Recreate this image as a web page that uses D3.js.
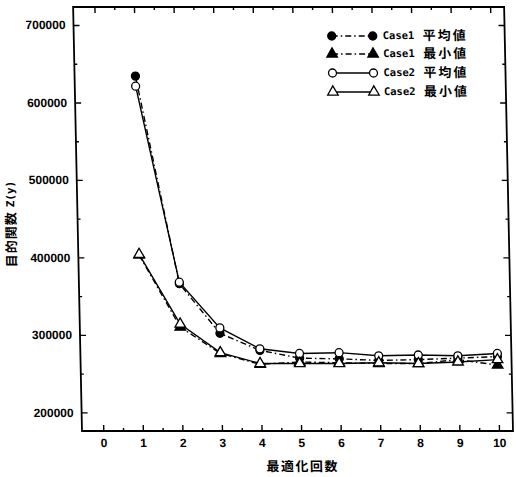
<!DOCTYPE html>
<html><head><meta charset="utf-8">
<script src="https://cdn.jsdelivr.net/npm/d3@7/dist/d3.min.js"></script>
<style>body{margin:0;background:#fff}svg{display:block}</style>
</head><body>
<script>
const iterations = [1,2,3,4,5,6,7,8,9,10];
const case1Mean = [634000,366000,302000,280000,270000,269000,267000,268000,270000,272000];
const case1Min  = [403000,310000,276000,262000,265000,264000,263000,263000,268000,261000];
const case2Mean = [621000,368000,309000,282000,276000,277000,273000,274000,273000,276000];
const case2Min  = [404000,314000,277000,263000,263000,263000,264000,263000,265000,268000];
const xTicks = [0,1,2,3,4,5,6,7,8,9,10];
const yTicks = [200000,300000,400000,500000,600000,700000];
const seriesNames = ["Case1", "Case1", "Case2", "Case2"];
const seriesKinds = ["平均値", "最小値", "平均値", "最小値"];

const W = 516, H = 477;
const L = 82, R = 513, T = 7, B = 431;
const svg = d3.select("body").append("svg").attr("width", W).attr("height", H);
svg.append("rect").attr("width", W).attr("height", H).attr("fill", "#fff");
// slight shear as in the scanned original
const g = svg.append("g").attr("transform", `translate(0,${B}) skewX(1.2) translate(0,${-B})`);

const x = d3.scaleLinear().domain([-0.538, 10.354]).range([L, R]);
const y = d3.scaleLinear().domain([175900, 723200]).range([B, T]);

const numFont = "'Liberation Sans', Arial, sans-serif";
const cjk = "'Noto Sans CJK JP', sans-serif";
const mono = "'DejaVu Sans Mono', monospace";

function styleAxis(sel){
  sel.select(".domain").remove();
  sel.selectAll("line").attr("stroke", "#000").attr("stroke-width", 1.4);
}
const xMinor = d3.range(0, 10.01, 0.5).filter(v => v % 1 !== 0);
const yMinor = d3.range(200000, 700001, 50000).filter(v => v % 100000 !== 0);

// bottom
g.append("g").attr("transform", `translate(0,${B})`)
  .call(d3.axisBottom(x).tickValues(xTicks).tickSize(-6).tickPadding(7).tickFormat(d3.format("d")))
  .call(styleAxis)
  .selectAll("text").attr("font-family", numFont).attr("font-weight", "bold").attr("font-size", 12).attr("fill", "#000");
g.append("g").attr("transform", `translate(0,${B})`)
  .call(d3.axisBottom(x).tickValues(xMinor).tickSize(-3).tickFormat(""))
  .call(styleAxis);
// top
g.append("g").attr("transform", `translate(0,${T})`)
  .call(d3.axisTop(x).tickValues(xTicks).tickSize(-6).tickFormat(""))
  .call(styleAxis);
g.append("g").attr("transform", `translate(0,${T})`)
  .call(d3.axisTop(x).tickValues(xMinor).tickSize(-3).tickFormat(""))
  .call(styleAxis);
// left
g.append("g").attr("transform", `translate(${L},0)`)
  .call(d3.axisLeft(y).tickValues(yTicks).tickSize(-6).tickPadding(8).tickFormat(d3.format("d")))
  .call(styleAxis)
  .selectAll("text").attr("font-family", numFont).attr("font-weight", "bold").attr("font-size", 12).attr("fill", "#000");
g.append("g").attr("transform", `translate(${L},0)`)
  .call(d3.axisLeft(y).tickValues(yMinor).tickSize(-3).tickFormat(""))
  .call(styleAxis);
// right
g.append("g").attr("transform", `translate(${R},0)`)
  .call(d3.axisRight(y).tickValues(yTicks).tickSize(-6).tickFormat(""))
  .call(styleAxis);
g.append("g").attr("transform", `translate(${R},0)`)
  .call(d3.axisRight(y).tickValues(yMinor).tickSize(-3).tickFormat(""))
  .call(styleAxis);

// frame
g.append("rect").attr("x", L).attr("y", T).attr("width", R - L).attr("height", B - T)
  .attr("fill", "none").attr("stroke", "#000").attr("stroke-width", 1.8);

// axis titles
g.append("text").attr("x", 302).attr("y", 467).attr("text-anchor", "middle").attr("dominant-baseline", "middle")
  .attr("font-family", cjk).attr("font-weight", "bold").attr("font-size", 13).attr("letter-spacing", 1.5)
  .text("最適化回数");
const yt = g.append("text").attr("transform", "translate(16,224) rotate(-90)").attr("text-anchor", "middle")
  .attr("dominant-baseline", "middle").attr("font-weight", "bold").attr("font-size", 13);
yt.append("tspan").attr("font-family", cjk).attr("letter-spacing", 1).text("目的関数 ");
yt.append("tspan").attr("font-family", mono).attr("font-size", 11).text("Z(y)");

// series
const series = [
  {vals: case1Mean, dash: "6,3,1.5,3", shape: "circle", fill: "#000"},
  {vals: case1Min,  dash: "6,3,1.5,3", shape: "triangle", fill: "#000"},
  {vals: case2Mean, dash: null, shape: "circle", fill: "#fff"},
  {vals: case2Min,  dash: null, shape: "triangle", fill: "#fff"}
];
const line = d3.line().x(d => x(d[0])).y(d => y(d[1]));
const sym = s => d3.symbol().type(s === "circle" ? d3.symbolCircle : d3.symbolTriangle).size(s === "circle" ? 50 : 48)();

series.forEach(s => {
  const pts = iterations.map((it, i) => [it, s.vals[i]]);
  g.append("path").attr("d", line(pts)).attr("fill", "none").attr("stroke", "#000")
    .attr("stroke-width", 1.4).attr("stroke-dasharray", s.dash);
});
series.forEach(s => {
  const pts = iterations.map((it, i) => [it, s.vals[i]]);
  g.selectAll(null).data(pts).enter().append("path")
    .attr("transform", d => `translate(${x(d[0])},${y(d[1])})`)
    .attr("d", sym(s.shape)).attr("fill", s.fill).attr("stroke", "#000").attr("stroke-width", 1.3);
});

// legend
const legY = [36, 54, 73, 92];
const lg = g.append("g");
series.forEach((s, i) => {
  const yy = legY[i];
  lg.append("line").attr("x1", 340).attr("x2", 381).attr("y1", yy).attr("y2", yy)
    .attr("stroke", "#000").attr("stroke-width", 1.4).attr("stroke-dasharray", s.dash);
  [340, 381].forEach(xx => lg.append("path").attr("transform", `translate(${xx},${yy})`)
    .attr("d", sym(s.shape)).attr("fill", s.fill).attr("stroke", "#000").attr("stroke-width", 1.3));
  lg.append("text").attr("x", 391).attr("y", yy).attr("dominant-baseline", "middle")
    .attr("font-family", mono).attr("font-weight", "bold").attr("font-size", 10.5).text(seriesNames[i]);
  lg.append("text").attr("x", 431).attr("y", yy).attr("dominant-baseline", "middle")
    .attr("font-family", cjk).attr("font-weight", "bold").attr("font-size", 13).attr("letter-spacing", 2)
    .text(seriesKinds[i]);
});
</script>
</body></html>
